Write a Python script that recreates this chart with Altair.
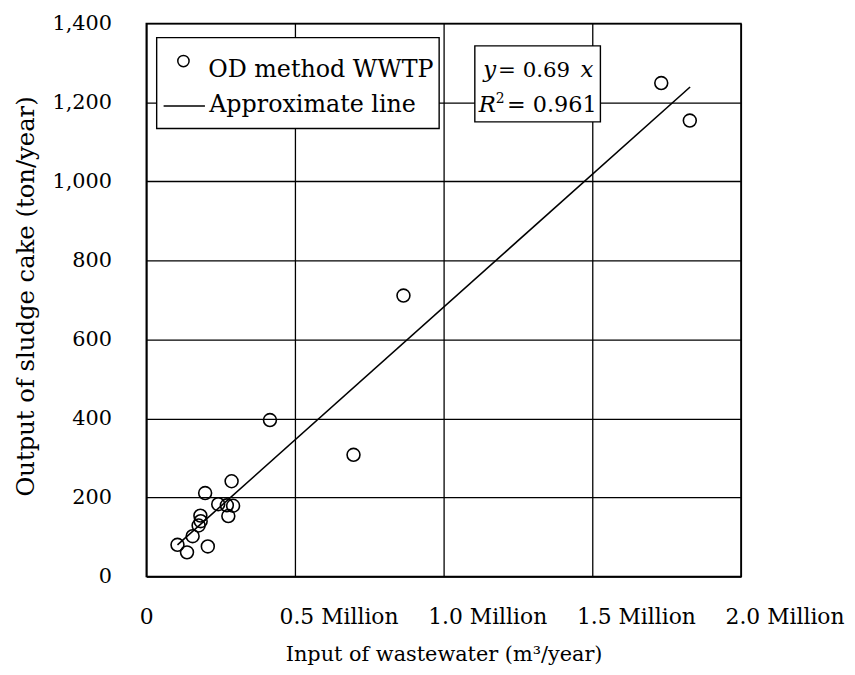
import altair as alt
import pandas as pd

# Scatter data (input m3/year, output ton/year)
input_m3 = [105000, 137000, 156000, 176000, 183000, 182000, 198000, 207000, 242000,
            271000, 276000, 287000, 292000, 416000, 697000, 865000, 1732000, 1828000]
output_ton = [80, 61, 102, 129, 140, 154, 211, 76, 183,
              180, 153, 241, 179, 396, 308, 711, 1249, 1154]

# Approximate line endpoints
line_x = [105000, 1829000]
line_y = [80, 1239]

x_ticks = [0, 500000, 1000000, 1500000, 2000000]
y_ticks = [0, 200, 400, 600, 800, 1000, 1200, 1400]

series_name = "OD method WWTP"
line_name = "Approximate line"

FONT = "DejaVu Serif"

df = pd.DataFrame({"x": input_m3, "y": output_ton})
df_line = pd.DataFrame({"x": line_x, "y": line_y})
one = pd.DataFrame({"a": [0]})

xscale = alt.Scale(domain=[0, 2000000], nice=False, zero=True)
yscale = alt.Scale(domain=[0, 1400], nice=False)

x_axis = alt.Axis(
    values=x_ticks,
    labelExpr="datum.value == 0 ? '0' : format(datum.value / 1000000, '.1f') + ' Million'",
    labelAlign="center",
    labelOffset={"condition": {"test": "datum.value == 0", "value": 0}, "value": 44},
    labelPadding=30,
    labelFontSize=22,
    ticks=False,
    title="Input of wastewater (m³/year)",
    titlePadding=17,
    titleFontSize=21,
)
y_axis = alt.Axis(
    values=y_ticks,
    format=",d",
    labelPadding=35,
    labelFontSize=21,
    ticks=False,
    title="Output of sludge cake (ton/year)",
    titlePadding=14,
    titleFontSize=24.5,
    titleY=275,
)

points = alt.Chart(df).mark_point(
    shape="circle", filled=False, size=169, color="black", strokeWidth=1.6, opacity=1
).encode(
    x=alt.X("x:Q", scale=xscale, axis=x_axis),
    y=alt.Y("y:Q", scale=yscale, axis=y_axis),
)

line = alt.Chart(df_line).mark_line(color="black", strokeWidth=1.6).encode(
    x=alt.X("x:Q", scale=xscale),
    y=alt.Y("y:Q", scale=yscale),
)

# Legend box (manual, Excel style)
leg_box = alt.Chart(one).mark_rect(fill="white", stroke="black", strokeWidth=1.4).encode(
    x=alt.value(10.5), x2=alt.value(295.5), y=alt.value(14.4), y2=alt.value(106.1)
)
leg_circle = alt.Chart(one).mark_point(
    shape="circle", filled=False, size=130, color="black", strokeWidth=1.5, opacity=1
).encode(x=alt.value(37.5), y=alt.value(38))
leg_rule = alt.Chart(one).mark_rule(color="black", strokeWidth=1.6).encode(
    x=alt.value(17.5), x2=alt.value(59.2), y=alt.value(83.4)
)
leg_t1 = alt.Chart(one).mark_text(
    text=series_name, font=FONT, fontSize=24, align="left", baseline="alphabetic", color="black"
).encode(x=alt.value(62.5), y=alt.value(54.4))
leg_t2 = alt.Chart(one).mark_text(
    text=line_name, font=FONT, fontSize=24, align="left", baseline="alphabetic", color="black"
).encode(x=alt.value(63.5), y=alt.value(89.4))

# Equation box
eq_box = alt.Chart(one).mark_rect(fill="white", stroke="black", strokeWidth=1.4).encode(
    x=alt.value(331.5), x2=alt.value(458.2), y=alt.value(22.7), y2=alt.value(99.4)
)
def txt(s, x, y, align="left", italic=False, size=23):
    kw = dict(text=s, font=FONT, fontSize=size, align=align, baseline="alphabetic", color="black")
    if italic:
        kw["fontStyle"] = "italic"
    return alt.Chart(one).mark_text(**kw).encode(x=alt.value(x), y=alt.value(y))

eq = [
    txt("y", 340, 54.4, italic=True),
    txt("= 0.69", 355, 54.4, size=21.5),
    txt("x", 438, 54.4, italic=True),
    txt("R", 335.5, 89.4, italic=True),
    txt("2", 352.5, 80.5, size=14),
    txt("= 0.961", 364, 89.4, size=22.5),
]

chart = alt.layer(points, line, leg_box, leg_circle, leg_rule, leg_t1, leg_t2, eq_box, *eq).properties(
    width=600,
    height=558,
    autosize=alt.AutoSizeParams(type="none"),
    padding={"left": 139.5, "top": 12.6, "right": 107, "bottom": 89},
).configure_view(
    stroke="black", strokeWidth=1.5
).configure_axis(
    grid=True,
    gridColor="black",
    gridOpacity=1,
    gridWidth=1.3,
    domainColor="black",
    domainWidth=1.5,
    labelFont=FONT,
    labelColor="black",
    titleFont=FONT,
    titleFontWeight="normal",
    titleColor="black",
)

chart.save("out.html", embed_options={"renderer": "svg", "actions": False})
